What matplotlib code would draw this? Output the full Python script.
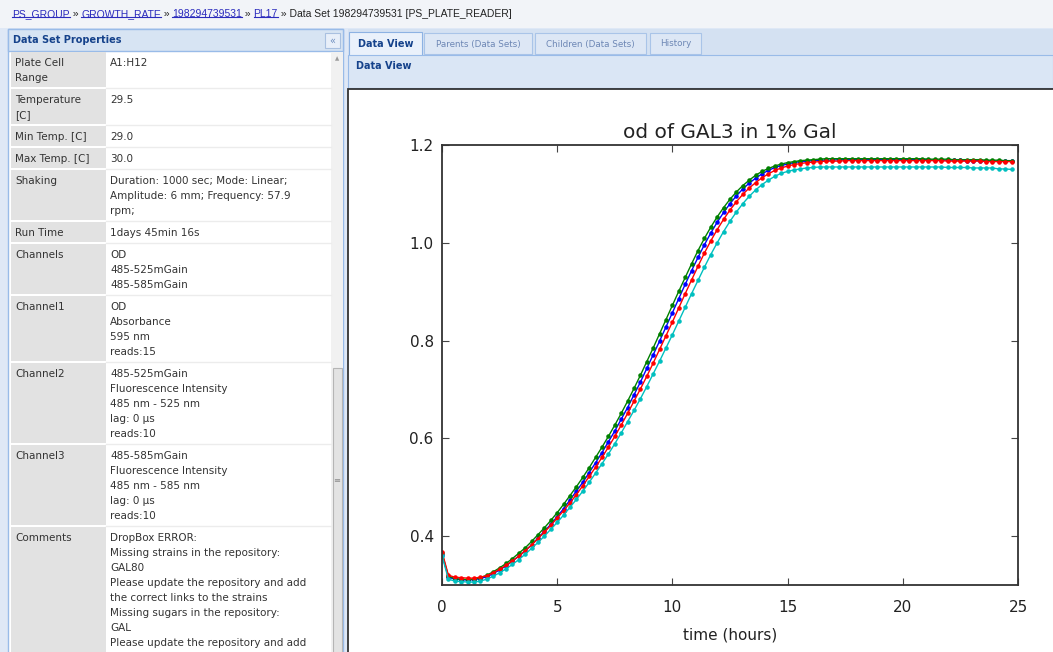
import matplotlib
matplotlib.use('Agg')
import matplotlib.pyplot as plt
import numpy as np
from matplotlib.patches import Rectangle

W, H = 1053, 652

# OD readings, one every 1000 s
interval_s = 1000
od_blue = [0.362, 0.316, 0.312, 0.311, 0.310, 0.311, 0.313, 0.317, 0.323, 0.331,
           0.339, 0.349, 0.359, 0.370, 0.382, 0.396, 0.410, 0.424, 0.440, 0.456,
           0.474, 0.492, 0.510, 0.530, 0.550, 0.571, 0.593, 0.615, 0.639, 0.663,
           0.689, 0.715, 0.743, 0.771, 0.799, 0.828, 0.857, 0.886, 0.915, 0.943,
           0.970, 0.996, 1.020, 1.042, 1.062, 1.080, 1.096, 1.110, 1.122, 1.132,
           1.141, 1.148, 1.154, 1.158, 1.161, 1.164, 1.166, 1.167, 1.168, 1.169,
           1.169, 1.169, 1.170, 1.170, 1.170, 1.170, 1.170, 1.170, 1.170, 1.170,
           1.170, 1.170, 1.170, 1.170, 1.170, 1.170, 1.170, 1.169, 1.169, 1.169,
           1.169, 1.169, 1.168, 1.168, 1.168, 1.168, 1.168, 1.167, 1.167, 1.167]
od_green = [0.365, 0.318, 0.313, 0.312, 0.311, 0.312, 0.315, 0.320, 0.327, 0.335,
            0.344, 0.354, 0.365, 0.376, 0.389, 0.403, 0.417, 0.432, 0.448, 0.465,
            0.483, 0.501, 0.520, 0.540, 0.561, 0.582, 0.604, 0.627, 0.651, 0.676,
            0.702, 0.729, 0.757, 0.785, 0.814, 0.843, 0.872, 0.901, 0.929, 0.957,
            0.984, 1.009, 1.032, 1.053, 1.072, 1.089, 1.104, 1.117, 1.128, 1.138,
            1.146, 1.152, 1.157, 1.161, 1.164, 1.166, 1.168, 1.169, 1.170, 1.171,
            1.172, 1.172, 1.172, 1.172, 1.172, 1.172, 1.172, 1.172, 1.172, 1.172,
            1.172, 1.172, 1.172, 1.172, 1.172, 1.172, 1.171, 1.171, 1.171, 1.171,
            1.170, 1.170, 1.170, 1.170, 1.170, 1.169, 1.169, 1.169, 1.168, 1.168]
od_red = [0.368, 0.320, 0.316, 0.315, 0.314, 0.314, 0.316, 0.319, 0.325, 0.332,
          0.340, 0.349, 0.359, 0.370, 0.382, 0.395, 0.408, 0.422, 0.437, 0.452,
          0.468, 0.485, 0.503, 0.522, 0.541, 0.561, 0.582, 0.604, 0.627, 0.651,
          0.676, 0.701, 0.727, 0.754, 0.782, 0.810, 0.838, 0.867, 0.896, 0.924,
          0.952, 0.979, 1.004, 1.027, 1.048, 1.067, 1.084, 1.099, 1.112, 1.123,
          1.133, 1.141, 1.148, 1.153, 1.157, 1.160, 1.162, 1.164, 1.165, 1.166,
          1.167, 1.167, 1.167, 1.168, 1.168, 1.168, 1.168, 1.168, 1.168, 1.168,
          1.168, 1.168, 1.168, 1.168, 1.168, 1.168, 1.168, 1.168, 1.168, 1.167,
          1.167, 1.167, 1.167, 1.167, 1.167, 1.166, 1.166, 1.166, 1.166, 1.166]
od_cyan = [0.360, 0.312, 0.308, 0.307, 0.306, 0.306, 0.308, 0.312, 0.318, 0.325,
           0.333, 0.342, 0.352, 0.363, 0.375, 0.387, 0.400, 0.414, 0.428, 0.443,
           0.459, 0.475, 0.492, 0.510, 0.529, 0.548, 0.568, 0.589, 0.611, 0.634,
           0.657, 0.681, 0.706, 0.732, 0.758, 0.785, 0.812, 0.840, 0.868, 0.896,
           0.923, 0.950, 0.976, 1.000, 1.023, 1.044, 1.063, 1.080, 1.095, 1.108,
           1.119, 1.128, 1.136, 1.142, 1.146, 1.149, 1.151, 1.153, 1.154, 1.155,
           1.155, 1.155, 1.155, 1.155, 1.155, 1.155, 1.155, 1.155, 1.155, 1.155,
           1.155, 1.155, 1.155, 1.155, 1.155, 1.155, 1.155, 1.155, 1.155, 1.154,
           1.154, 1.154, 1.154, 1.153, 1.153, 1.153, 1.153, 1.151, 1.151, 1.150]
hours = np.arange(len(od_green)) * interval_s / 3600.0

x_ticks = [0, 5, 10, 15, 20, 25]
y_ticks = [0.4, 0.6, 0.8, 1.0, 1.2]

# breadcrumb pieces: (text, is_link)
breadcrumb = [("PS_GROUP", True), (" » ", False), ("GROWTH_RATE", True), (" » ", False),
              ("198294739531", True), (" » ", False), ("PL17", True),
              (" » Data Set 198294739531 [PS_PLATE_READER]", False)]

tab_names = ["Data View", "Parents (Data Sets)", "Children (Data Sets)", "History"]

prop_labels = [["Plate Cell", "Range"], ["Temperature", "[C]"], ["Min Temp. [C]"],
               ["Max Temp. [C]"], ["Shaking"], ["Run Time"], ["Channels"],
               ["Channel1"], ["Channel2"], ["Channel3"], ["Comments"]]
prop_values = [["A1:H12"], ["29.5"], ["29.0"], ["30.0"],
               ["Duration: 1000 sec; Mode: Linear;", "Amplitude: 6 mm; Frequency: 57.9", "rpm;"],
               ["1days 45min 16s"],
               ["OD", "485-525mGain", "485-585mGain"],
               ["OD", "Absorbance", "595 nm", "reads:15"],
               ["485-525mGain", "Fluorescence Intensity", "485 nm - 525 nm", "lag: 0 µs", "reads:10"],
               ["485-585mGain", "Fluorescence Intensity", "485 nm - 585 nm", "lag: 0 µs", "reads:10"],
               ["DropBox ERROR:", "Missing strains in the repository:", "GAL80",
                "Please update the repository and add", "the correct links to the strains",
                "Missing sugars in the repository:", "GAL", "Please update the repository and add"]]

fig = plt.figure(figsize=(W / 100, H / 100), dpi=100)
bg = fig.add_axes([0, 0, 1, 1])
bg.set_xlim(0, W)
bg.set_ylim(H, 0)
bg.axis('off')


def box(x0, y0, x1, y1, fc, ec='none', lw=0.0):
    bg.add_patch(Rectangle((x0, y0), x1 - x0, y1 - y0, facecolor=fc, edgecolor=ec, linewidth=lw))


box(0, 0, W, H, '#dfe8f6')
box(0, 0, W, 28, '#f2f4f8')

# breadcrumb line
link_col = '#2b2bbd'
links = []
prev = None
for txt, is_link in breadcrumb:
    kw = dict(fontsize=7.5, family=['Liberation Sans Narrow', 'Liberation Sans'],
              color=link_col if is_link else '#222222', va='bottom', ha='left')
    if prev is None:
        t = bg.text(12, 19, txt, **kw)
    else:
        t = bg.annotate(txt, xy=(1, 0), xycoords=prev, **kw)
    if is_link:
        links.append(t)
    prev = t

# left properties panel
box(8, 29, 343, H + 2, 'white', ec='#99bbe8', lw=1)
box(8, 29, 343, 51, '#d7e4f3', ec='#99bbe8', lw=1)
bg.text(13, 40, "Data Set Properties", fontsize=7, fontweight='bold', color='#15428b', va='center')
box(325, 33, 340, 48, '#e8eff9', ec='#a9c0e0', lw=0.8)
bg.text(332.5, 40.5, "«", fontsize=7, color='#6f8fbf', ha='center', va='center')

y = 52
for lab, val in zip(prop_labels, prop_values):
    n = max(len(lab), len(val))
    h = 15 * n + 7
    box(11, y, 106, y + h - 2, '#e2e2e2')
    bg.plot([106, 331], [y + h - 1, y + h - 1], color='#ececec', lw=1)
    for k, line in enumerate(lab):
        bg.text(15, y + 11 + 15 * k, line, fontsize=7.5, color='#333333', va='center')
    for k, line in enumerate(val):
        bg.text(110, y + 11 + 15 * k, line, fontsize=7.5, color='#333333', va='center')
    y += h

# scrollbar
box(331, 52, 343, H + 2, '#f1f1f1')
bg.text(337, 59, "▲", fontsize=4, color='#9a9a9a', ha='center', va='center')
box(332.5, 368, 341.5, H + 4, '#e3e3e3', ec='#b5b5b5', lw=0.8)
bg.text(337, 480, "≡", fontsize=6, color='#8a8a8a', ha='center', va='center')

# right panel: tabs, header, content
box(348, 29, W, 55, '#d4e1f2')
tab_x = [(349, 422), (424, 532), (535, 646), (650, 701)]
for i, (name, (x0, x1)) in enumerate(zip(tab_names, tab_x)):
    if i == 0:
        box(x0, 32, x1, 56, '#eaf1fb', ec='#8db2e3', lw=0.8)
        bg.text((x0 + x1) / 2, 44, name, fontsize=7, fontweight='bold', color='#15428b',
                ha='center', va='center')
    else:
        box(x0, 33, x1, 54, '#dde7f5', ec='#a9c4e8', lw=0.8)
        bg.text((x0 + x1) / 2, 44, name, fontsize=6.3, color='#6d87b5', ha='center', va='center')
box(348, 55, W, 88, '#dae6f5', ec='#99bbe8', lw=0.8)
bg.text(356, 66, "Data View", fontsize=7, fontweight='bold', color='#15428b', va='center')
box(348, 89, W + 2, H + 2, 'white', ec='#333333', lw=1.3)

# the growth chart
ax = fig.add_axes([442 / W, 1 - 585 / H, 576 / W, 440 / H])
for series, col in [(od_blue, 'b'), (od_green, 'g'), (od_red, 'r'), (od_cyan, 'c')]:
    ax.plot(hours, series, color=col, marker='.', markersize=4.5, linewidth=1)
ax.set_xlim(0, 25)
ax.set_ylim(0.3, 1.2)
ax.set_xticks(x_ticks)
ax.set_yticks(y_ticks)
ax.tick_params(direction='in', top=True, right=True, length=5, labelsize=11,
               color='#444444', labelcolor='#222222')
ax.tick_params(axis='y', pad=6)
ax.tick_params(axis='x', pad=11)
for sp in ax.spines.values():
    sp.set_color('#333333')
    sp.set_linewidth(1.3)
ax.set_title('od of GAL3 in 1% Gal', fontsize=14.5, pad=5, color='#222222')
ax.set_xlabel('time (hours)', fontsize=11, color='#222222', labelpad=9)

# underline the breadcrumb links
fig.canvas.draw()
inv = bg.transData.inverted()
for t in links:
    bb = t.get_window_extent()
    (x0, y0), (x1, _) = inv.transform([(bb.x0, bb.y0), (bb.x1, bb.y0)])
    bg.plot([x0, x1], [y0 - 2, y0 - 2], color=link_col, lw=0.8)

fig.savefig('out.png', dpi=100)
